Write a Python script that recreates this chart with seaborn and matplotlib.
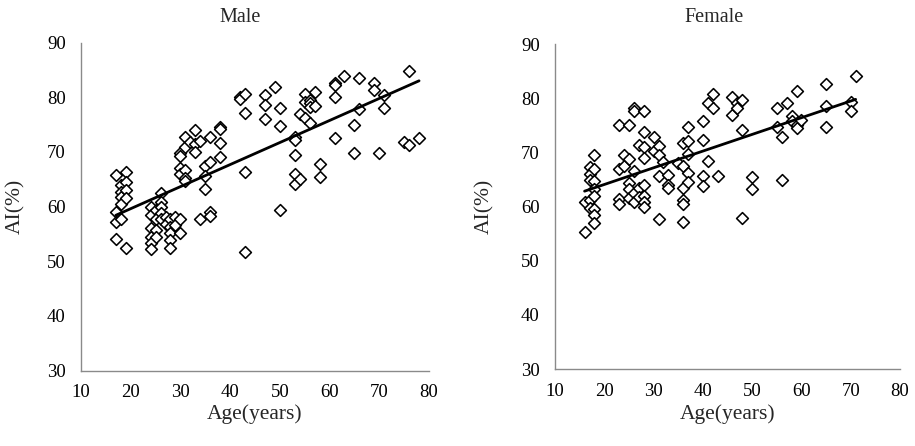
import matplotlib
matplotlib.use("Agg")
import matplotlib.pyplot as plt
import seaborn as sns
import pandas as pd

# ---------------- data ----------------
male_age = [17, 17, 17, 17,
            18, 18, 18, 18, 18,
            19, 19, 19, 19, 19,
            24, 24, 24, 24, 24, 24,
            25, 25, 25, 25,
            26, 26, 26, 26, 26,
            27, 27,
            28, 28, 28, 28, 28,
            29, 29,
            30, 30, 30, 30, 30, 30,
            31, 31, 31, 31, 31,
            32,
            33, 33, 33,
            34, 34,
            35, 35, 35,
            36, 36, 36, 36,
            38, 38, 38, 38,
            42, 42,
            43, 43, 43, 43,
            47, 47, 47,
            49,
            50, 50, 50,
            53, 53, 53, 53, 53,
            54, 54,
            55, 55, 55,
            56, 56, 56, 56,
            57, 57,
            58, 58,
            61, 61, 61, 61,
            63,
            65, 65,
            66, 66,
            69, 69,
            70,
            71, 71,
            75,
            76, 76,
            78]
male_ai = [65.7, 59.0, 57.1, 54.0,
           64.0, 62.7, 61.8, 60.5, 57.8,
           66.3, 64.5, 63.0, 61.6, 52.5,
           60.0, 58.5, 56.0, 54.5, 53.3, 52.2,
           59.4, 57.7, 55.7, 54.4,
           62.5, 60.9, 60.0, 58.8, 57.7,
           58.1, 56.9,
           57.8, 56.3, 55.1, 53.9, 52.4,
           58.1, 56.6,
           69.9, 69.3, 67.0, 66.0, 57.7, 55.2,
           72.8, 71.0, 66.7, 65.2, 64.6,
           71.8,
           74.0, 71.4, 70.0,
           72.0, 57.8,
           67.4, 65.6, 63.2,
           72.7, 68.2, 59.0, 58.2,
           74.5, 74.2, 71.6, 69.0,
           80.0, 79.7,
           80.6, 77.2, 66.3, 51.6,
           80.4, 78.6, 76.0,
           81.9,
           78.0, 74.7, 59.3,
           72.8, 72.2, 69.5, 65.9, 64.2,
           76.9, 65.1,
           80.7, 79.2, 76.2,
           79.5, 78.9, 78.2, 75.3,
           81.0, 78.4,
           67.8, 65.4,
           82.7, 82.2, 80.1, 72.5,
           83.9,
           75.0, 69.8,
           83.6, 77.8,
           82.6, 81.3,
           69.8,
           80.4, 78.0,
           71.9,
           84.8, 71.3,
           72.5]

female_age = [16, 16,
              17, 17, 17, 17, 17,
              18, 18, 18, 18, 18, 18, 18, 18,
              23, 23, 23, 23,
              24, 24,
              25, 25, 25, 25, 25,
              26, 26, 26, 26, 26,
              27, 27, 27,
              28, 28, 28, 28, 28, 28, 28, 28,
              30, 30,
              31, 31, 31, 31,
              32,
              33, 33, 33,
              35,
              36, 36, 36, 36, 36, 36,
              37, 37, 37, 37, 37,
              40, 40, 40, 40,
              41, 41,
              42, 42,
              43,
              46, 46,
              47, 47,
              48, 48, 48,
              50, 50,
              55, 55,
              56, 56,
              57,
              58, 58,
              59, 59, 59,
              60,
              65, 65, 65,
              70, 70,
              71]
female_ai = [60.9, 55.4,
             67.4, 66.0, 65.0, 61.3, 59.8,
             69.6, 67.0, 64.7, 63.3, 61.9, 59.5, 58.5, 56.9,
             75.0, 66.9, 61.4, 60.5,
             69.5, 67.5,
             75.0, 68.8, 64.3, 63.2, 61.6,
             78.3, 77.6, 66.5, 62.6, 60.8,
             71.3, 63.5, 61.8,
             77.6, 73.8, 71.1, 68.9, 64.0, 62.0, 60.9, 60.0,
             72.9, 70.2,
             71.2, 69.5, 65.6, 57.8,
             68.3,
             65.8, 64.0, 63.4,
             68.0,
             71.8, 67.6, 63.5, 61.2, 60.5, 57.2,
             74.8, 72.1, 69.8, 66.2, 64.6,
             75.9, 72.3, 65.7, 63.8,
             79.2, 68.5,
             80.9, 78.2,
             65.6,
             80.3, 77.0,
             79.1, 78.2,
             79.7, 74.2, 57.9,
             65.5, 63.2,
             78.2, 74.7,
             72.9, 64.9,
             79.1,
             76.8, 75.8,
             81.4, 75.1, 74.6,
             76.1,
             82.6, 78.6, 74.7,
             79.4, 77.6,
             84.1]

panel_titles = ["Male", "Female"]
x_label = "Age(years)"
y_label = "AI(%)"
x_ticks = [10, 20, 30, 40, 50, 60, 70, 80]
y_ticks = [30, 40, 50, 60, 70, 80, 90]

# ---------------- figure ----------------
sns.set_style("white")
plt.rcParams["font.family"] = ["Liberation Serif", "DejaVu Serif"]

W, H = 915, 446
fig = plt.figure(figsize=(W / 100, H / 100), dpi=100)

# axes boxes in pixel coords (left, top, right, bottom)
boxes = [(81, 42.7, 429, 370.5), (555, 44.3, 900, 369)]
title_x = [240, 714]
ylabel_x = [16, 485]

datasets = [
    pd.DataFrame({"age": male_age, "ai": male_ai}),
    pd.DataFrame({"age": female_age, "ai": female_ai}),
]

spine_col = "#8a8a8a"
for i, (df, (l, t, r, b)) in enumerate(zip(datasets, boxes)):
    ax = fig.add_axes([l / W, 1 - b / H, (r - l) / W, (b - t) / H])
    sns.regplot(data=df, x="age", y="ai", ax=ax, ci=None, marker="D",
                color="black",
                scatter_kws={"s": 36, "facecolors": "white",
                             "edgecolors": "black", "linewidths": 1.15,
                             "alpha": 1, "zorder": 3},
                line_kws={"color": "black", "lw": 2.0, "zorder": 4})
    ax.set_xlim(10, 80)
    ax.set_ylim(30, 90)
    ax.set_xticks(x_ticks)
    ax.set_yticks(y_ticks)
    ax.set_xlabel("")
    ax.set_ylabel("")
    for s in ["top", "right"]:
        ax.spines[s].set_visible(False)
    for s in ["left", "bottom"]:
        ax.spines[s].set_color(spine_col)
        ax.spines[s].set_linewidth(1.0)
    ax.tick_params(axis="both", direction="in", length=4, width=1,
                   color=spine_col, labelsize=13.5, labelcolor="black")
    ax.tick_params(axis="x", pad=10)
    ax.tick_params(axis="y", pad=11)
    for sp in ax.spines.values():
        sp.set_clip_on(False)

    cx = (l + r) / 2
    fig.text(cx / W, 1 - 419 / H, x_label, ha="center", va="baseline",
             fontsize=15.5)
    fig.text(ylabel_x[i] / W, 1 - ((t + b) / 2) / H, y_label,
             rotation=90, ha="center", va="center", fontsize=15.5)
    fig.text(title_x[i] / W, 1 - 21.7 / H, panel_titles[i], ha="center",
             va="baseline", fontsize=14.5)

fig.savefig("out.png", dpi=100, facecolor="white")
